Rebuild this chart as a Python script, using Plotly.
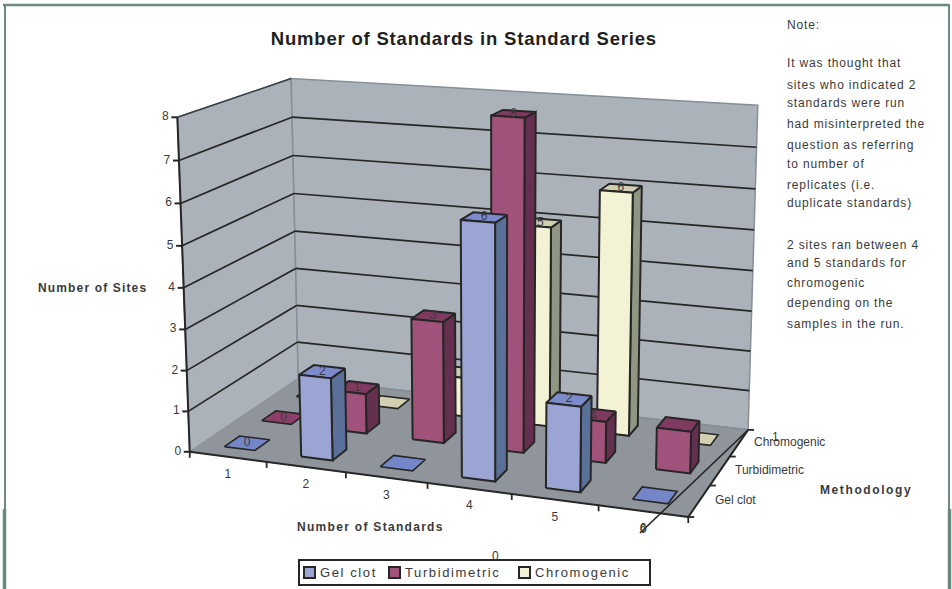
import json
import numpy as np
import plotly.graph_objects as go

# Survey counts per methodology, one value per number of standards
standards = ["1", "2", "3", "4", "5", "6"]
methods = ["Gel clot", "Turbidimetric", "Chromogenic"]
gel_clot = [0, 2, 0, 6, 2, 0]
turbidimetric = [0, 1, 3, 8, 1, 1]
chromogenic = [0, 0, 1, 5, 6, 0]
sites_ticks = [0, 1, 2, 3, 4, 5, 6, 7, 8]

# Which value labels the chart prints on each series
show_label = {
    "Gel clot": [1, 1, 0, 1, 1, 0],
    "Turbidimetric": [1, 1, 1, 1, 1, 0],
    "Chromogenic": [1, 0, 1, 1, 1, 0],
}

note_lines = [
    ("Note:", 25), ("It was thought that", 63), ("sites who indicated 2", 85),
    ("standards were run", 103), ("had misinterpreted the", 124),
    ("question as referring", 145), ("to number of", 164), ("replicates (i.e.", 185),
    ("duplicate standards)", 203), ("2 sites ran between 4", 245),
    ("and 5 standards for", 263), ("chromogenic", 283),
    ("depending on the", 303), ("samples in the run.", 324),
]

FONT = "Liberation Sans"
INK = "#262626"
TEXT = "#3a3a3a"
WALL = "#abb2ba"
FLOOR = "#8f959b"
WALL_EDGE = "#858f98"
FRAME = "#6b8a7f"

# colours: front, top, side, flat tile
SERIES_COLORS = {
    "Gel clot": ("#9aa5d3", "#7b8bcb", "#5b7099", "#7485c8"),
    "Turbidimetric": ("#a0527a", "#7f3a60", "#65304f", "#8c3f68"),
    "Chromogenic": ("#f4f2d4", "#cfcfb4", "#8f9682", "#d2d0b0"),
}
BAR_WIDTH = 0.4

# Camera calibration: (standards, methodology, sites) -> screen position
VIEW_ANCHORS = [
    ((0, 0, 0), (190, 451)), ((6, 0, 0), (688, 518)), ((6, 3, 0), (748, 430)),
    ((0, 3, 0), (298, 379)), ((0, 0, 8), (177, 117)), ((0, 3, 8), (291, 78)),
    ((6, 3, 8), (758, 107)), ((0, 0, 4), (184, 288)), ((0, 3, 4), (295, 232)),
    ((6, 3, 4), (753, 268)),
]


def solve_camera(anchors):
    rows, rhs = [], []
    for (a, b, c), (px, py) in anchors:
        rows.append([a, b, c, 1, 0, 0, 0, 0, -px * a, -px * b, -px * c])
        rows.append([0, 0, 0, 0, a, b, c, 1, -py * a, -py * b, -py * c])
        rhs += [px, py]
    sol = np.linalg.lstsq(np.array(rows, float), np.array(rhs, float), rcond=None)[0]
    return np.append(sol, 1.0).reshape(3, 4)


CAMERA = solve_camera(VIEW_ANCHORS)


def project(u, v, z):
    p = CAMERA @ np.array([u, v, z, 1.0])
    return p[0] / p[2], p[1] / p[2]


fig = go.Figure()


def polygon(points, fill, edge=INK, width=2):
    pts = [project(*p) for p in points] + [project(*points[0])]
    fig.add_trace(go.Scatter(
        x=[p[0] for p in pts], y=[p[1] for p in pts], mode="lines", fill="toself",
        fillcolor=fill, line=dict(color=edge, width=width), hoverinfo="skip", showlegend=False,
    ))


def segment(a, b, color=INK, width=1.7):
    pa, pb = project(*a), project(*b)
    fig.add_trace(go.Scatter(
        x=[pa[0], pb[0]], y=[pa[1], pb[1]], mode="lines",
        line=dict(color=color, width=width), hoverinfo="skip", showlegend=False,
    ))


def tick(a, dx, dy, width=1.8):
    px, py = project(*a)
    fig.add_trace(go.Scatter(
        x=[px, px + dx], y=[py, py + dy], mode="lines",
        line=dict(color=INK, width=width), hoverinfo="skip", showlegend=False,
    ))


def label(u, v, z, text, dx=0, dy=0, size=12, color=TEXT):
    px, py = project(u, v, z)
    fig.add_trace(go.Scatter(
        x=[px + dx], y=[py + dy], mode="text", text=[text], textposition="middle center",
        textfont=dict(family=FONT, size=size, color=color), hoverinfo="skip", showlegend=False,
    ))


n_std, n_meth, top = len(standards), len(methods), sites_ticks[-1]

# walls and floor
polygon([(0, 0, 0), (0, n_meth, 0), (0, n_meth, top), (0, 0, top)], WALL, WALL_EDGE, 1.5)
polygon([(0, n_meth, 0), (n_std, n_meth, 0), (n_std, n_meth, top), (0, n_meth, top)], WALL, WALL_EDGE, 1.5)
polygon([(0, 0, 0), (n_std, 0, 0), (n_std, n_meth, 0), (0, n_meth, 0)], FLOOR, FLOOR, 1)

# gridlines on both walls
for z in sites_ticks[1:-1]:
    segment((0, 0, z), (0, n_meth, z))
    segment((0, n_meth, z), (n_std, n_meth, z))
segment((0, 0, top), (0, n_meth, top), "#3a3f44", 1.5)
segment((0, n_meth, 0), (n_std, n_meth, 0), WALL_EDGE, 1.5)

# axis lines, ticks and tick labels
segment((0, 0, 0), (0, 0, top), INK, 2)
segment((0, 0, 0), (n_std, 0, 0), INK, 2)
segment((n_std, 0, 0), (n_std, n_meth, 0), INK, 2)
for z in sites_ticks:
    tick((0, 0, z), -6, 0, 2)
    label(0, 0, z, str(z), dx=-12)
for i in range(n_std + 1):
    tick((i, 0, 0), 0, 6)
for j in range(n_meth + 1):
    tick((n_std, j, 0), 6, 0)
for i, name in enumerate(standards):
    label(i + 0.5, 0, 0, name, dy=18)

# bars, painted back to front
series = {"Gel clot": gel_clot, "Turbidimetric": turbidimetric, "Chromogenic": chromogenic}
half = BAR_WIDTH / 2
for j in reversed(range(n_meth)):
    name = methods[j]
    front, roof, side, tile = SERIES_COLORS[name]
    for i, h in enumerate(series[name]):
        u0, u1 = i + 0.5 - half, i + 0.5 + half
        v0, v1 = j + 0.5 - half, j + 0.5 + half
        if h == 0:
            polygon([(u0, v0, 0), (u1, v0, 0), (u1, v1, 0), (u0, v1, 0)], tile, INK, 1.6)
        else:
            polygon([(u1, v0, 0), (u1, v1, 0), (u1, v1, h), (u1, v0, h)], side)
            polygon([(u0, v0, h), (u1, v0, h), (u1, v1, h), (u0, v1, h)], roof)
            polygon([(u0, v0, 0), (u1, v0, 0), (u1, v0, h), (u0, v0, h)], front)
        if show_label[name][i]:
            label(i + 0.5, j + 0.5, h, str(h))

# legend swatches and box
LEGEND_BOX = (299, 560, 650, 585)
legend_entries = [(methods[0], 309.5, 320), (methods[1], 394.5, 405), (methods[2], 524.5, 535)]
for name, swatch_x, _ in legend_entries:
    fig.add_trace(go.Scatter(
        x=[swatch_x], y=[572.5], mode="markers",
        marker=dict(symbol="square", size=11, color=SERIES_COLORS[name][0],
                    line=dict(color=INK, width=2)),
        hoverinfo="skip", showlegend=False,
    ))

annotations = []
tracking = {}


def text(x, y, s, size=12, bold=False, anchor="left", color=TEXT, spacing=0):
    if spacing:
        tracking[str(len(annotations))] = [spacing, anchor]
    annotations.append(dict(
        x=x, y=y, xref="x", yref="y", text=f"<b>{s}</b>" if bold else s, showarrow=False,
        xanchor=anchor, yanchor="middle", borderpad=0, borderwidth=0,
        font=dict(family=FONT, size=size, color=color),
    ))


text(464, 38, "Number of Standards in Standard Series", 18.5, True, "center", "#1f1f1f", 0.8)
text(38, 288, "Number of Sites", 12, True, spacing=1.15)
text(297, 527, "Number of Standards", 12, True, spacing=1.3)
text(820, 490, "Methodology", 12, True, spacing=1.6)
text(715, 500, methods[0], 12)
text(735, 470, methods[1], 12)
text(754, 442, methods[2], 12)
text(775, 437, "1", 12, anchor="center")
text(495, 556, "0", 12, anchor="center")
text(643, 529, "0", 12, anchor="center")
for s, y in note_lines:
    text(787, y, s, 12, spacing=0.85)
for name, _, text_x in legend_entries:
    text(text_x, 572.5, name, 13, spacing=1.6)

frame_line = lambda x0, y0, x1, y1, w: dict(
    type="line", xref="x", yref="y", x0=x0, y0=y0, x1=x1, y1=y1, layer="above",
    line=dict(color=FRAME, width=w))

fig.update_layout(
    width=952, height=589, margin=dict(l=0, r=0, t=0, b=0, autoexpand=False),
    paper_bgcolor="white", plot_bgcolor="white",
    xaxis=dict(range=[0, 952], visible=False, fixedrange=True),
    yaxis=dict(range=[589, 0], visible=False, fixedrange=True),
    annotations=annotations,
    showlegend=False,
    shapes=[
        frame_line(3, 5, 949, 5, 2.5),
        frame_line(5, 4, 5, 509, 2),
        frame_line(4.5, 509, 4.5, 589, 3.5),
        frame_line(949, 4, 949, 509, 2),
        frame_line(949.5, 509, 949.5, 589, 3.5),
        # diagonal lead-out line running to the back corner of the floor
        dict(type="line", xref="x", yref="y", x0=640, y0=533, x1=748, y1=430, layer="above",
             line=dict(color=INK, width=1.6)),
        # legend border
        dict(type="rect", xref="x", yref="y", x0=LEGEND_BOX[0], y0=LEGEND_BOX[1],
             x1=LEGEND_BOX[2], y1=LEGEND_BOX[3], layer="below",
             line=dict(color=INK, width=2), fillcolor="white"),
    ],
)

# SVG letter-spacing is not exposed through the font options; left-anchored
# text is nudged so that it grows to the right only.
post_script = """
var tracking = %s;
document.querySelectorAll('.annotation').forEach(function (node) {
  var entry = tracking[node.getAttribute('data-index')];
  var t = node.querySelector('.annotation-text');
  if (!entry || !t) return;
  var before = t.getComputedTextLength();
  t.style.letterSpacing = entry[0] + 'px';
  var after = t.getComputedTextLength();
  if (entry[1] === 'left') {
    t.setAttribute('x', parseFloat(t.getAttribute('x')) + (after - before) / 2);
  }
});
""" % json.dumps(tracking)

fig.write_html("out.html", config={"displayModeBar": False}, post_script=post_script)
